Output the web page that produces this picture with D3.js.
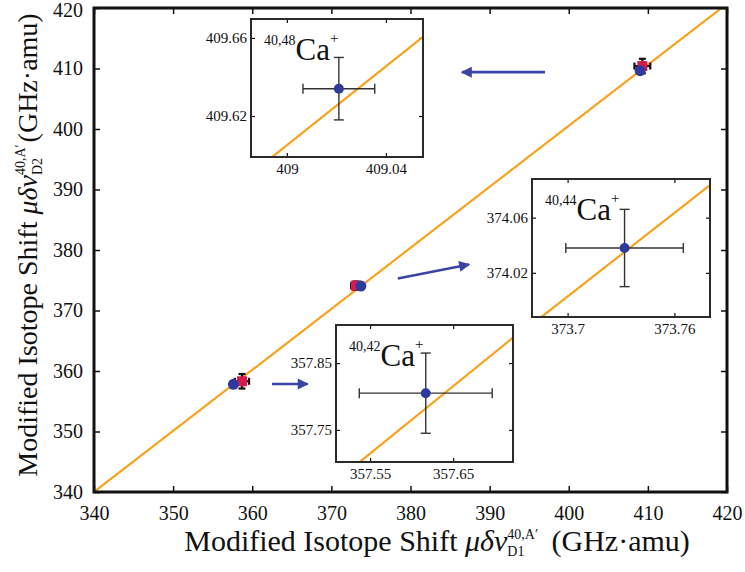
<!DOCTYPE html>
<html>
<head>
<meta charset="utf-8">
<script src="https://cdn.jsdelivr.net/npm/d3@7/dist/d3.min.js"></script>
<style>
  body { margin: 0; background: #fff; }
  svg, svg text { font-family: "Liberation Serif", "Times New Roman", serif !important; }
</style>
</head>
<body>
<div id="chart"></div>
<script>
// isotope pairs
var isotopes = ["40,42", "40,44", "40,48"];

// this work
var blueX = [357.617, 373.732, 409.021];
var blueY = [357.805, 374.038, 409.634];
var blueXErr = [0.080, 0.033, 0.0145];
var blueYErr = [0.060, 0.028, 0.016];

// previous measurement
var redX = [358.7, 373.1, 409.3];
var redY = [358.3, 374.1, 410.4];
var redXErr = [0.9, 0.6, 1.0];
var redYErr = [1.2, 0.7, 1.2];

// linear fit  y = a x + b
var fitSlope = 1.00856;
var fitIntercept = -2.896;

var mainTicks = [340, 350, 360, 370, 380, 390, 400, 410, 420];

// zoomed views, one per isotope pair
var insetXDomain = [[357.509, 357.722], [373.680, 373.780], [408.9855, 409.055]];
var insetYDomain = [[357.702, 357.907], [373.988, 374.088], [409.599, 409.6697]];
var insetXTicks = [[357.55, 357.65], [373.7, 373.76], [409, 409.04]];
var insetYTicks = [[357.75, 357.85], [374.02, 374.06], [409.62, 409.66]];

// annotation arrows, main-plot units: [x0, y0, x1, y1]
var arrows = [
    [362.5, 357.85, 367.0, 357.85],
    [378.4, 375.3, 387.4, 377.6],
    [397.0, 409.4, 386.5, 409.4]
];

var W = 745, H = 572;
var M = { left: 94, right: 727, top: 8, bottom: 492 };
// pixel boxes for the zoomed views: [left, top, right, bottom]
var insetBox = [[336, 325, 513, 462], [532, 179, 710, 317], [251, 19, 423, 157]];

var ORANGE = "#F7A11D", BLUE = "#2F3B9C", RED = "#D7194B", ARROW = "#3A43A6";
var SERIF = "'Liberation Serif', 'Times New Roman', serif";

var svg = d3.select("#chart").append("svg")
    .attr("width", W)
    .attr("height", H)
    .style("font-family", SERIF);

var defs = svg.append("defs");
defs.append("marker")
    .attr("id", "head")
    .attr("viewBox", "0 0 10 10")
    .attr("markerUnits", "userSpaceOnUse")
    .attr("markerWidth", 15)
    .attr("markerHeight", 11)
    .attr("refX", 9)
    .attr("refY", 5)
    .attr("orient", "auto")
  .append("path")
    .attr("d", "M0,0L10,5L0,10z")
    .attr("fill", ARROW);

var x = d3.scaleLinear().domain([340, 420]).range([M.left, M.right]);
var y = d3.scaleLinear().domain([340, 420]).range([M.bottom, M.top]);

defs.append("clipPath").attr("id", "clipMain")
  .append("rect")
    .attr("x", M.left).attr("y", M.top)
    .attr("width", M.right - M.left).attr("height", M.bottom - M.top);

function fit(v) { return fitSlope * v + fitIntercept; }

function styleAxis(a, size) {
    a.attr("font-family", null);
    a.select(".domain").remove();
    a.selectAll(".tick line").attr("stroke", "#111");
    a.selectAll(".tick text")
        .style("font-family", SERIF)
        .attr("font-size", size)
        .attr("fill", "#111");
}

// axes, ticks pointing inward on all four sides
var gy;
[
    svg.append("g").attr("transform", "translate(0," + M.bottom + ")")
        .call(d3.axisBottom(x).tickValues(mainTicks).tickSize(-6).tickPadding(14)),
    gy = svg.append("g").attr("transform", "translate(" + M.left + ",0)")
        .call(d3.axisLeft(y).tickValues(mainTicks).tickSize(-6).tickPadding(11)),
    svg.append("g").attr("transform", "translate(0," + M.top + ")")
        .call(d3.axisTop(x).tickValues(mainTicks).tickSize(-6).tickFormat("")),
    svg.append("g").attr("transform", "translate(" + M.right + ",0)")
        .call(d3.axisRight(y).tickValues(mainTicks).tickSize(-6).tickFormat(""))
].forEach(function (a) {
    styleAxis(a, 20);
    a.selectAll(".tick line").attr("stroke-width", 1.5);
});
// keep the top label inside the page
gy.selectAll(".tick text").filter(function (d) { return d === 420; }).attr("dy", "0.42em");

svg.append("line")
    .attr("clip-path", "url(#clipMain)")
    .attr("x1", x(340)).attr("y1", y(fit(340)))
    .attr("x2", x(420)).attr("y2", y(fit(420)))
    .attr("stroke", ORANGE)
    .attr("stroke-width", 2.2);

svg.append("rect")
    .attr("x", M.left).attr("y", M.top)
    .attr("width", M.right - M.left).attr("height", M.bottom - M.top)
    .attr("fill", "none")
    .attr("stroke", "#111")
    .attr("stroke-width", 3);

function errorBars(g, sx, sy, cx, cy, ex, ey, cap, color, width) {
    g.append("line")
        .attr("x1", sx(cx - ex)).attr("x2", sx(cx + ex))
        .attr("y1", sy(cy)).attr("y2", sy(cy));
    g.append("line")
        .attr("x1", sx(cx)).attr("x2", sx(cx))
        .attr("y1", sy(cy - ey)).attr("y2", sy(cy + ey));
    [cx - ex, cx + ex].forEach(function (v) {
        g.append("line")
            .attr("x1", sx(v)).attr("x2", sx(v))
            .attr("y1", sy(cy) - cap).attr("y2", sy(cy) + cap);
    });
    [cy - ey, cy + ey].forEach(function (v) {
        g.append("line")
            .attr("x1", sx(cx) - cap).attr("x2", sx(cx) + cap)
            .attr("y1", sy(v)).attr("y2", sy(v));
    });
    g.selectAll("line").attr("stroke", color).attr("stroke-width", width);
}

// main-plot markers
isotopes.forEach(function (iso, i) {
    var g = svg.append("g");
    errorBars(g, x, y, redX[i], redY[i], redXErr[i], redYErr[i], 3.5, "#111", 2.2);
    svg.append("rect")
        .attr("x", x(redX[i]) - 5).attr("y", y(redY[i]) - 5)
        .attr("width", 10).attr("height", 10)
        .attr("fill", RED);
    svg.append("circle")
        .attr("cx", x(blueX[i])).attr("cy", y(blueY[i]))
        .attr("r", 5.5)
        .attr("fill", BLUE);
});

svg.selectAll(".arrow")
    .data(arrows)
  .enter().append("line")
    .attr("class", "arrow")
    .attr("x1", function (d) { return x(d[0]); })
    .attr("y1", function (d) { return y(d[1]); })
    .attr("x2", function (d) { return x(d[2]); })
    .attr("y2", function (d) { return y(d[3]); })
    .attr("stroke", ARROW)
    .attr("stroke-width", 2.6)
    .attr("marker-end", "url(#head)");

// zoomed views
isotopes.forEach(function (iso, i) {
    var b = insetBox[i];
    var ix = d3.scaleLinear().domain(insetXDomain[i]).range([b[0], b[2]]);
    var iy = d3.scaleLinear().domain(insetYDomain[i]).range([b[3], b[1]]);
    var g = svg.append("g");
    var fmt = function (d) { return String(+d.toFixed(2)); };

    g.append("rect")
        .attr("x", b[0]).attr("y", b[1])
        .attr("width", b[2] - b[0]).attr("height", b[3] - b[1])
        .attr("fill", "#fff");

    defs.append("clipPath").attr("id", "clip" + i)
      .append("rect")
        .attr("x", b[0]).attr("y", b[1])
        .attr("width", b[2] - b[0]).attr("height", b[3] - b[1]);

    [
        g.append("g").attr("transform", "translate(0," + b[3] + ")")
            .call(d3.axisBottom(ix).tickValues(insetXTicks[i]).tickSize(-4).tickPadding(6).tickFormat(fmt)),
        g.append("g").attr("transform", "translate(" + b[0] + ",0)")
            .call(d3.axisLeft(iy).tickValues(insetYTicks[i]).tickSize(-4).tickPadding(4).tickFormat(fmt)),
        g.append("g").attr("transform", "translate(0," + b[1] + ")")
            .call(d3.axisTop(ix).tickValues(insetXTicks[i]).tickSize(-4).tickFormat("")),
        g.append("g").attr("transform", "translate(" + b[2] + ",0)")
            .call(d3.axisRight(iy).tickValues(insetYTicks[i]).tickSize(-4).tickFormat(""))
    ].forEach(function (a) {
        styleAxis(a, 15);
        a.selectAll(".tick line").attr("stroke-width", 1.2);
    });

    var x0 = insetXDomain[i][0], x1 = insetXDomain[i][1];
    g.append("line")
        .attr("clip-path", "url(#clip" + i + ")")
        .attr("x1", ix(x0)).attr("y1", iy(fit(x0)))
        .attr("x2", ix(x1)).attr("y2", iy(fit(x1)))
        .attr("stroke", ORANGE)
        .attr("stroke-width", 2.2);

    var eb = g.append("g");
    errorBars(eb, ix, iy, blueX[i], blueY[i], blueXErr[i], blueYErr[i], 5, "#333", 1.4);

    g.append("circle")
        .attr("cx", ix(blueX[i])).attr("cy", iy(blueY[i]))
        .attr("r", 5)
        .attr("fill", BLUE);

    g.append("rect")
        .attr("x", b[0]).attr("y", b[1])
        .attr("width", b[2] - b[0]).attr("height", b[3] - b[1])
        .attr("fill", "none")
        .attr("stroke", "#2a2a2a")
        .attr("stroke-width", 2);

    var lab = g.append("text")
        .attr("x", b[0] + 13)
        .attr("y", b[1] + 41)
        .attr("fill", "#111");
    lab.append("tspan").attr("font-size", 14).attr("dy", -15).text(iso);
    lab.append("tspan").attr("font-size", 31).attr("dy", 15).text("Ca");
    lab.append("tspan").attr("font-size", 15).attr("dy", -17).text("+");
});

// axis titles with stacked sub/superscripts on the nu
function title(g, opt, sub) {
    var t = g.append("text")
        .attr("font-size", opt.size)
        .attr("fill", "#111")
        .attr("text-anchor", "middle");
    t.append("tspan").text("Modified Isotope Shift ");
    t.append("tspan").attr("font-style", "italic").text("μδν");
    var s = t.append("tspan").attr("font-size", opt.small).attr("dy", 5).text(sub);
    var subLen = s.node().getComputedTextLength();
    var p = t.append("tspan").attr("font-size", opt.small)
        .attr("dx", -subLen).attr("dy", -17).text("40,A\u2032");
    var supLen = p.node().getComputedTextLength();
    t.append("tspan")
        .attr("dx", Math.max(0, subLen - supLen) + opt.gap)
        .attr("dy", 12)
        .text(opt.unit);
    return t;
}

title(svg.append("g").attr("transform", "translate(437,551)"),
    { size: 30, small: 14, gap: 6, unit: " (GHz·amu)" }, "D1");
title(svg.append("g").attr("transform", "translate(37,245) rotate(-90)"),
    { size: 28, small: 14, gap: 2, unit: "(GHz·amu)" }, "D2");
</script>
</body>
</html>
